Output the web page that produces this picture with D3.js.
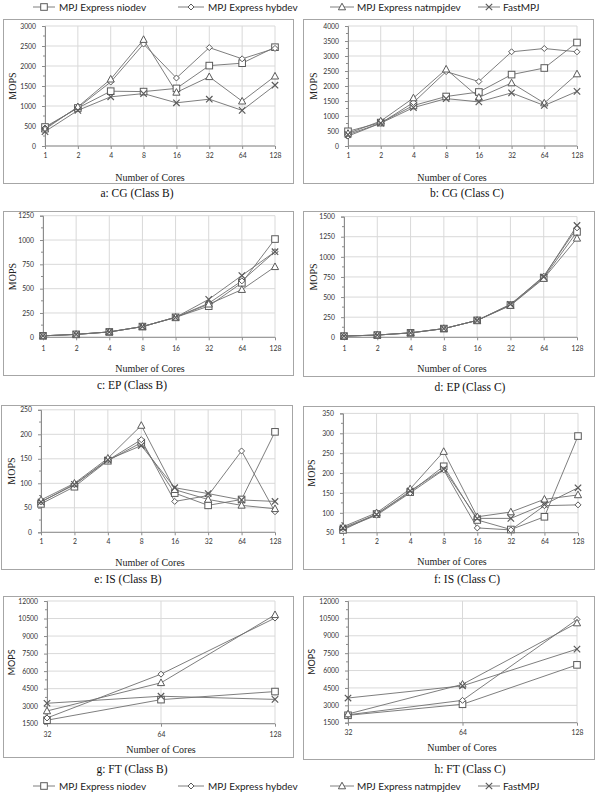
<!DOCTYPE html>
<html><head><meta charset="utf-8">
<script src="https://cdn.jsdelivr.net/npm/d3@7"></script>
<style>body{margin:0;background:#fff}svg{display:block}</style>
</head><body>
<svg id="c" width="600" height="793"></svg>
<script>
// ---------- DATA ----------
const seriesNames = ["MPJ Express niodev", "MPJ Express hybdev", "MPJ Express natmpjdev", "FastMPJ"];
const cores = ["1", "2", "4", "8", "16", "32", "64", "128"];
const ftCores = ["32", "64", "128"];

// each: [niodev, hybdev, natmpjdev, FastMPJ]
const cgClassB = [
  [475, 950, 1370, 1360, 1440, 2010, 2070, 2470],
  [450, 960, 1600, 2550, 1700, 2460, 2180, 2440],
  [420, 980, 1670, 2660, 1340, 1730, 1120, 1745],
  [360, 890, 1230, 1310, 1080, 1170, 890, 1520]
];
const cgClassC = [
  [490, 780, 1350, 1650, 1800, 2380, 2600, 3450],
  [330, 760, 1450, 2480, 2150, 3140, 3250, 3140],
  [420, 830, 1600, 2560, 1620, 2100, 1430, 2400],
  [380, 760, 1280, 1580, 1470, 1770, 1350, 1820]
];
const epClassB = [
  [15, 30, 55, 110, 205, 320, 560, 1010],
  [15, 30, 55, 110, 205, 350, 580, 880],
  [15, 30, 55, 110, 205, 340, 490, 725],
  [15, 30, 55, 110, 205, 390, 635, 880]
];
const epClassC = [
  [15, 28, 55, 108, 210, 400, 740, 1310],
  [15, 28, 55, 108, 210, 405, 760, 1360],
  [15, 28, 55, 108, 210, 395, 730, 1230],
  [15, 28, 55, 108, 210, 410, 750, 1390]
];
const isClassB = [
  [58, 93, 146, 183, 80, 55, 67, 205],
  [62, 97, 147, 189, 63, 75, 166, 42],
  [66, 100, 151, 218, 87, 67, 55, 48],
  [62, 98, 148, 177, 91, 79, 66, 63]
];
const isClassC = [
  [57, 97, 152, 217, 82, 58, 90, 293],
  [60, 94, 150, 208, 62, 57, 118, 120],
  [65, 100, 160, 254, 90, 102, 134, 145],
  [62, 96, 155, 210, 86, 86, 121, 163]
];
const ftClassB = [
  [1800, 3560, 4250],
  [1990, 5740, 10540],
  [2590, 5000, 10820],
  [3250, 3850, 3580]
];
const ftClassC = [
  [2140, 3090, 6490],
  [2180, 3430, 10410],
  [2250, 4810, 10100],
  [3630, 4680, 7850]
];
const yTicksCGB = [0, 500, 1000, 1500, 2000, 2500, 3000];
const yTicksCGC = [0, 500, 1000, 1500, 2000, 2500, 3000, 3500, 4000];
const yTicksEPB = [0, 250, 500, 750, 1000, 1250];
const yTicksEPC = [0, 250, 500, 750, 1000, 1250, 1500];
const yTicksISB = [0, 50, 100, 150, 200, 250];
const yTicksISC = [50, 100, 150, 200, 250, 300, 350];
const yTicksFT = [1500, 3000, 4500, 6000, 7500, 9000, 10500, 12000];
const captions = ["a: CG (Class B)", "b: CG (Class C)", "c: EP (Class B)", "d: EP (Class C)",
                  "e: IS (Class B)", "f: IS (Class C)", "g: FT (Class B)", "h: FT (Class C)"];

// ---------- LAYOUT ----------
const panels = [
  {data: cgClassB, cats: cores, ticks: yTicksCGB, box: [3, 19, 290, 164], plot: [45, 26, 275, 146], tickY: 156, xlab: [150, 177], cap: [137, 193], mops: 12, serifMops: true},
  {data: cgClassC, cats: cores, ticks: yTicksCGC, box: [303, 19, 290, 164], plot: [348, 26, 577, 146], tickY: 156, xlab: [452, 177], cap: [467, 193], mops: 313, serifMops: true},
  {data: epClassB, cats: cores, ticks: yTicksEPB, box: [3, 211, 290, 164], plot: [43, 215.7, 275, 337.3], tickY: 349, xlab: [150, 368], cap: [132, 385], mops: 12, serifMops: true},
  {data: epClassC, cats: cores, ticks: yTicksEPC, box: [303, 211, 291, 165], plot: [344, 216.6, 577, 337.3], tickY: 349, xlab: [452, 368], cap: [470, 387], mops: 313, serifMops: true},
  {data: isClassB, cats: cores, ticks: yTicksISB, box: [1, 405, 291, 164], plot: [41, 409.8, 275, 532.3], tickY: 542, xlab: [150, 562], cap: [128, 579], mops: 11, serifMops: true},
  {data: isClassC, cats: cores, ticks: yTicksISC, box: [303, 406, 291, 163], plot: [343, 413.4, 578, 532.7], tickY: 542, xlab: [452, 561.5], cap: [467, 579], mops: 311, serifMops: true},
  {data: ftClassB, cats: ftCores, ticks: yTicksFT, box: [3, 596, 290, 161], plot: [47, 601, 275, 723.7], tickY: 735, xlab: [161, 749], cap: [132, 769], mops: 12, serifMops: false},
  {data: ftClassC, cats: ftCores, ticks: yTicksFT, box: [303, 596, 291, 163], plot: [348, 601, 577, 722.7], tickY: 733, xlab: [462, 747], cap: [470, 769], mops: 312, serifMops: false}
];

const svg = d3.select("#c");
const SANS = "Lato, 'Open Sans', sans-serif";
const SERIF = "'Liberation Serif', 'Times New Roman', serif";
const lineCol = "#6f6f6f", markCol = "#5a5a5a", gridCol = "#d9d9d9";

function marker(g, type, x, y) {
  const s = 3.3;
  if (type === 0) {
    g.append("rect").attr("x", x - s).attr("y", y - s).attr("width", 2 * s).attr("height", 2 * s)
      .attr("fill", "#fff").attr("stroke", markCol).attr("stroke-width", 1);
  } else if (type === 1) {
    const d = 3;
    g.append("path").attr("d", `M${x},${y - d}L${x + d},${y}L${x},${y + d}L${x - d},${y}Z`)
      .attr("fill", "#fff").attr("stroke", markCol).attr("stroke-width", 1);
  } else if (type === 2) {
    g.append("path").attr("d", `M${x},${y - 3.8}L${x + 3.6},${y + 2.8}L${x - 3.6},${y + 2.8}Z`)
      .attr("fill", "#fff").attr("stroke", markCol).attr("stroke-width", 1);
  } else {
    const d = 3.2;
    g.append("path").attr("d", `M${x - d},${y - d}L${x + d},${y + d}M${x - d},${y + d}L${x + d},${y - d}`)
      .attr("fill", "none").attr("stroke", markCol).attr("stroke-width", 1.2);
  }
}

panels.forEach((p, i) => {
  const g = svg.append("g");
  const [bx, by, bw, bh] = p.box;
  g.append("rect").attr("x", bx + 0.5).attr("y", by + 0.5).attr("width", bw).attr("height", bh)
    .attr("fill", "#fff").attr("stroke", "#a6a6a6").attr("stroke-width", 1);
  const [x0, y0, x1, y1] = p.plot;
  const x = d3.scalePoint().domain(p.cats).range([x0, x1]);
  const ext = d3.extent(p.ticks);
  const y = d3.scaleLinear().domain(ext).range([y1, y0]);

  // gridlines
  g.append("g").selectAll("line.h").data(p.ticks).join("line")
    .attr("x1", x0).attr("x2", x1).attr("y1", d => y(d)).attr("y2", d => y(d))
    .attr("stroke", gridCol).attr("stroke-width", 1);
  g.append("g").selectAll("line.v").data(p.cats).join("line")
    .attr("x1", d => x(d)).attr("x2", d => x(d)).attr("y1", y0).attr("y2", y1)
    .attr("stroke", gridCol).attr("stroke-width", 1);

  // y axis
  const yAxis = d3.axisLeft(y).tickValues(p.ticks).tickSize(3).tickPadding(6).tickFormat(d3.format("d"));
  const ya = g.append("g").attr("transform", `translate(${x0},0)`).call(yAxis);
  ya.select(".domain").attr("stroke", "#8c8c8c");
  ya.selectAll(".tick line").attr("stroke", "#8c8c8c");
  ya.selectAll("text").attr("font-family", SANS).attr("font-size", 6.8).attr("fill", "#333");
  // minor ticks
  const minor = [];
  for (let k = 0; k < p.ticks.length - 1; k++) minor.push((p.ticks[k] + p.ticks[k + 1]) / 2);
  g.append("g").selectAll("line").data(minor).join("line")
    .attr("x1", x0 - 2).attr("x2", x0).attr("y1", d => y(d)).attr("y2", d => y(d))
    .attr("stroke", "#8c8c8c");

  // x axis
  const xa = g.append("g").attr("transform", `translate(0,${y1})`)
    .call(d3.axisBottom(x).tickSize(3).tickPadding(0));
  xa.select(".domain").attr("stroke", "#8c8c8c").attr("d", `M${x0},0H${x1}`);
  xa.selectAll(".tick line").attr("stroke", "#8c8c8c");
  xa.selectAll("text").attr("font-family", SANS).attr("font-size", 6.8).attr("fill", "#333")
    .attr("y", p.tickY - y1).attr("dy", "0.35em");

  // series
  p.data.forEach((vals, si) => {
    const line = d3.line().x((d, j) => x(p.cats[j])).y(d => y(d));
    g.append("path").attr("d", line(vals)).attr("fill", "none")
      .attr("stroke", lineCol).attr("stroke-width", 0.9);
  });
  p.data.forEach((vals, si) => {
    const mg = g.append("g");
    vals.forEach((v, j) => marker(mg, si, x(p.cats[j]), y(v)));
  });

  // labels
  g.append("text").attr("transform", `translate(${p.mops},${(y0 + y1) / 2}) rotate(-90)`)
    .attr("text-anchor", "middle").attr("dy", "0.35em")
    .attr("font-family", p.serifMops ? SERIF : SANS).attr("font-size", p.serifMops ? 10 : 9)
    .attr("fill", "#222").text("MOPS");
  g.append("text").attr("x", p.xlab[0]).attr("y", p.xlab[1]).attr("dy", "0.35em")
    .attr("text-anchor", "middle").attr("font-family", SERIF).attr("font-size", 10)
    .attr("fill", "#222").text("Number of Cores");
  svg.append("text").attr("x", p.cap[0]).attr("y", p.cap[1]).attr("dy", "0.35em")
    .attr("text-anchor", "middle").attr("font-family", SERIF).attr("font-size", 11.5)
    .attr("fill", "#111").text(captions[i]);
});

// legends
const legX = [[33, 55, 59], [178, 204, 208], [330, 354, 357], [478, 500, 503]];
[7, 786].forEach(ly => {
  const lg = svg.append("g");
  seriesNames.forEach((n, si) => {
    const [a, b, t] = legX[si];
    lg.append("line").attr("x1", a).attr("x2", b).attr("y1", ly).attr("y2", ly)
      .attr("stroke", lineCol).attr("stroke-width", 0.9);
    marker(lg, si, (a + b) / 2, ly);
    lg.append("text").attr("x", t).attr("y", ly).attr("dy", "0.35em")
      .attr("font-family", SANS).attr("font-size", 10).attr("fill", "#222").text(n);
  });
});
</script>
</body></html>
